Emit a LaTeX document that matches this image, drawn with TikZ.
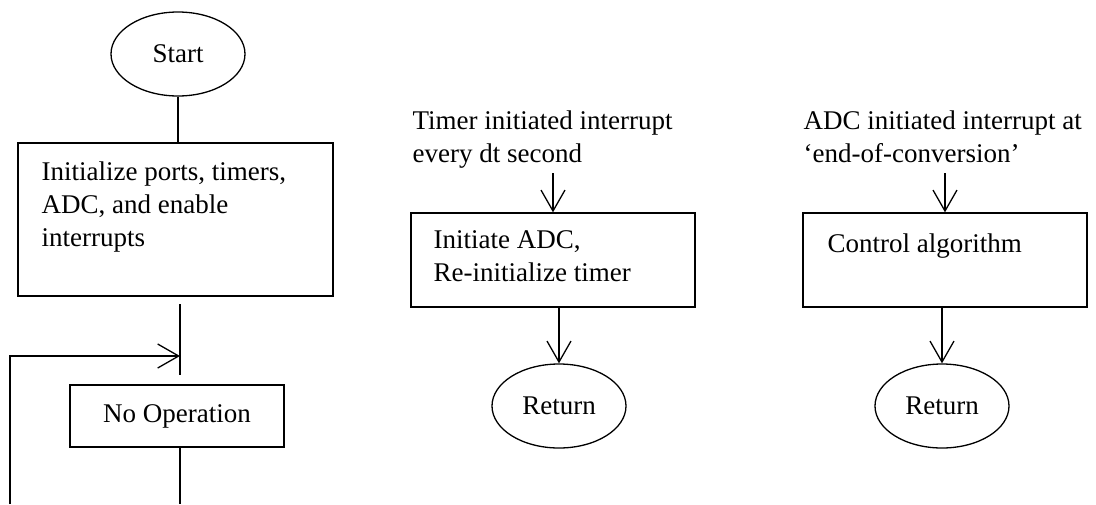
\documentclass[tikz,border=0pt]{standalone}
\usepackage{fontspec}
\setmainfont{Liberation Serif}
\usetikzlibrary{shapes.geometric,arrows.meta}

\begin{document}
\begin{tikzpicture}[x=1pt,y=-1pt,line width=1.3pt,
  every node/.style={font=\fontsize{27}{33}\selectfont,inner sep=0pt},
  box/.style={draw,rectangle},
  term/.style={draw,ellipse,minimum width=134pt,minimum height=84pt},
  txt/.style={align=left,anchor=north west},
  arr/.style={-{Straight Barb[length=21pt,width=24pt]}}]
\useasboundingbox (0,0) rectangle (1096,504);

\node[term] (start) at (178,54) {Start};
\node[box,minimum width=315pt,minimum height=153pt] (init) at (175.5,219.5) {};
\node[txt] (inittxt) at (41,161) {Initialize ports, timers,\\ADC, and enable\\interrupts};
\node[box,minimum width=214pt,minimum height=62pt] (noop) at (177,416) {No Operation};

\node[txt] (timerlbl) at (412,110) {Timer initiated interrupt\\every dt second};
\node[box,minimum width=284pt,minimum height=94pt] (initadc) at (553,260) {};
\node[txt] (initadctxt) at (433,230) {Initiate ADC,\\Re-initialize timer};
\node[term] (ret1) at (559,406) {Return};

\node[txt] (adclbl) at (803,110) {ADC initiated interrupt at\\‘end-of-conversion’};
\node[box,minimum width=284pt,minimum height=94pt] (ctrl) at (945,260) {};
\node[txt] (ctrltxt) at (827,233) {Control algorithm};
\node[term] (ret2) at (942,406) {Return};

\coordinate (gaptop) at (180,304);
\coordinate (gapbot) at (180,375);
\coordinate (loopin) at (180,356);
\coordinate (loopcorner) at (10,356);
\coordinate (loopend) at (10,504);
\coordinate (noopout) at (180,504);
\coordinate (tin) at (553,173);
\coordinate (ain) at (945,173);

\draw (start.south) -- (start.south |- init.north);
\draw (gaptop) -- (gapbot);
% loop back into the idle step
\draw[arr] (loopend) -- (loopcorner) -- (loopin);
\draw (noop.south -| noopout) -- (noopout);

\draw[arr] (tin) -- (initadc.north);
\draw[arr] (initadc.south -| ret1.north) -- (ret1.north);
\draw[arr] (ain) -- (ctrl.north);
\draw[arr] (ctrl.south -| ret2.north) -- (ret2.north);
\end{tikzpicture}
\end{document}
